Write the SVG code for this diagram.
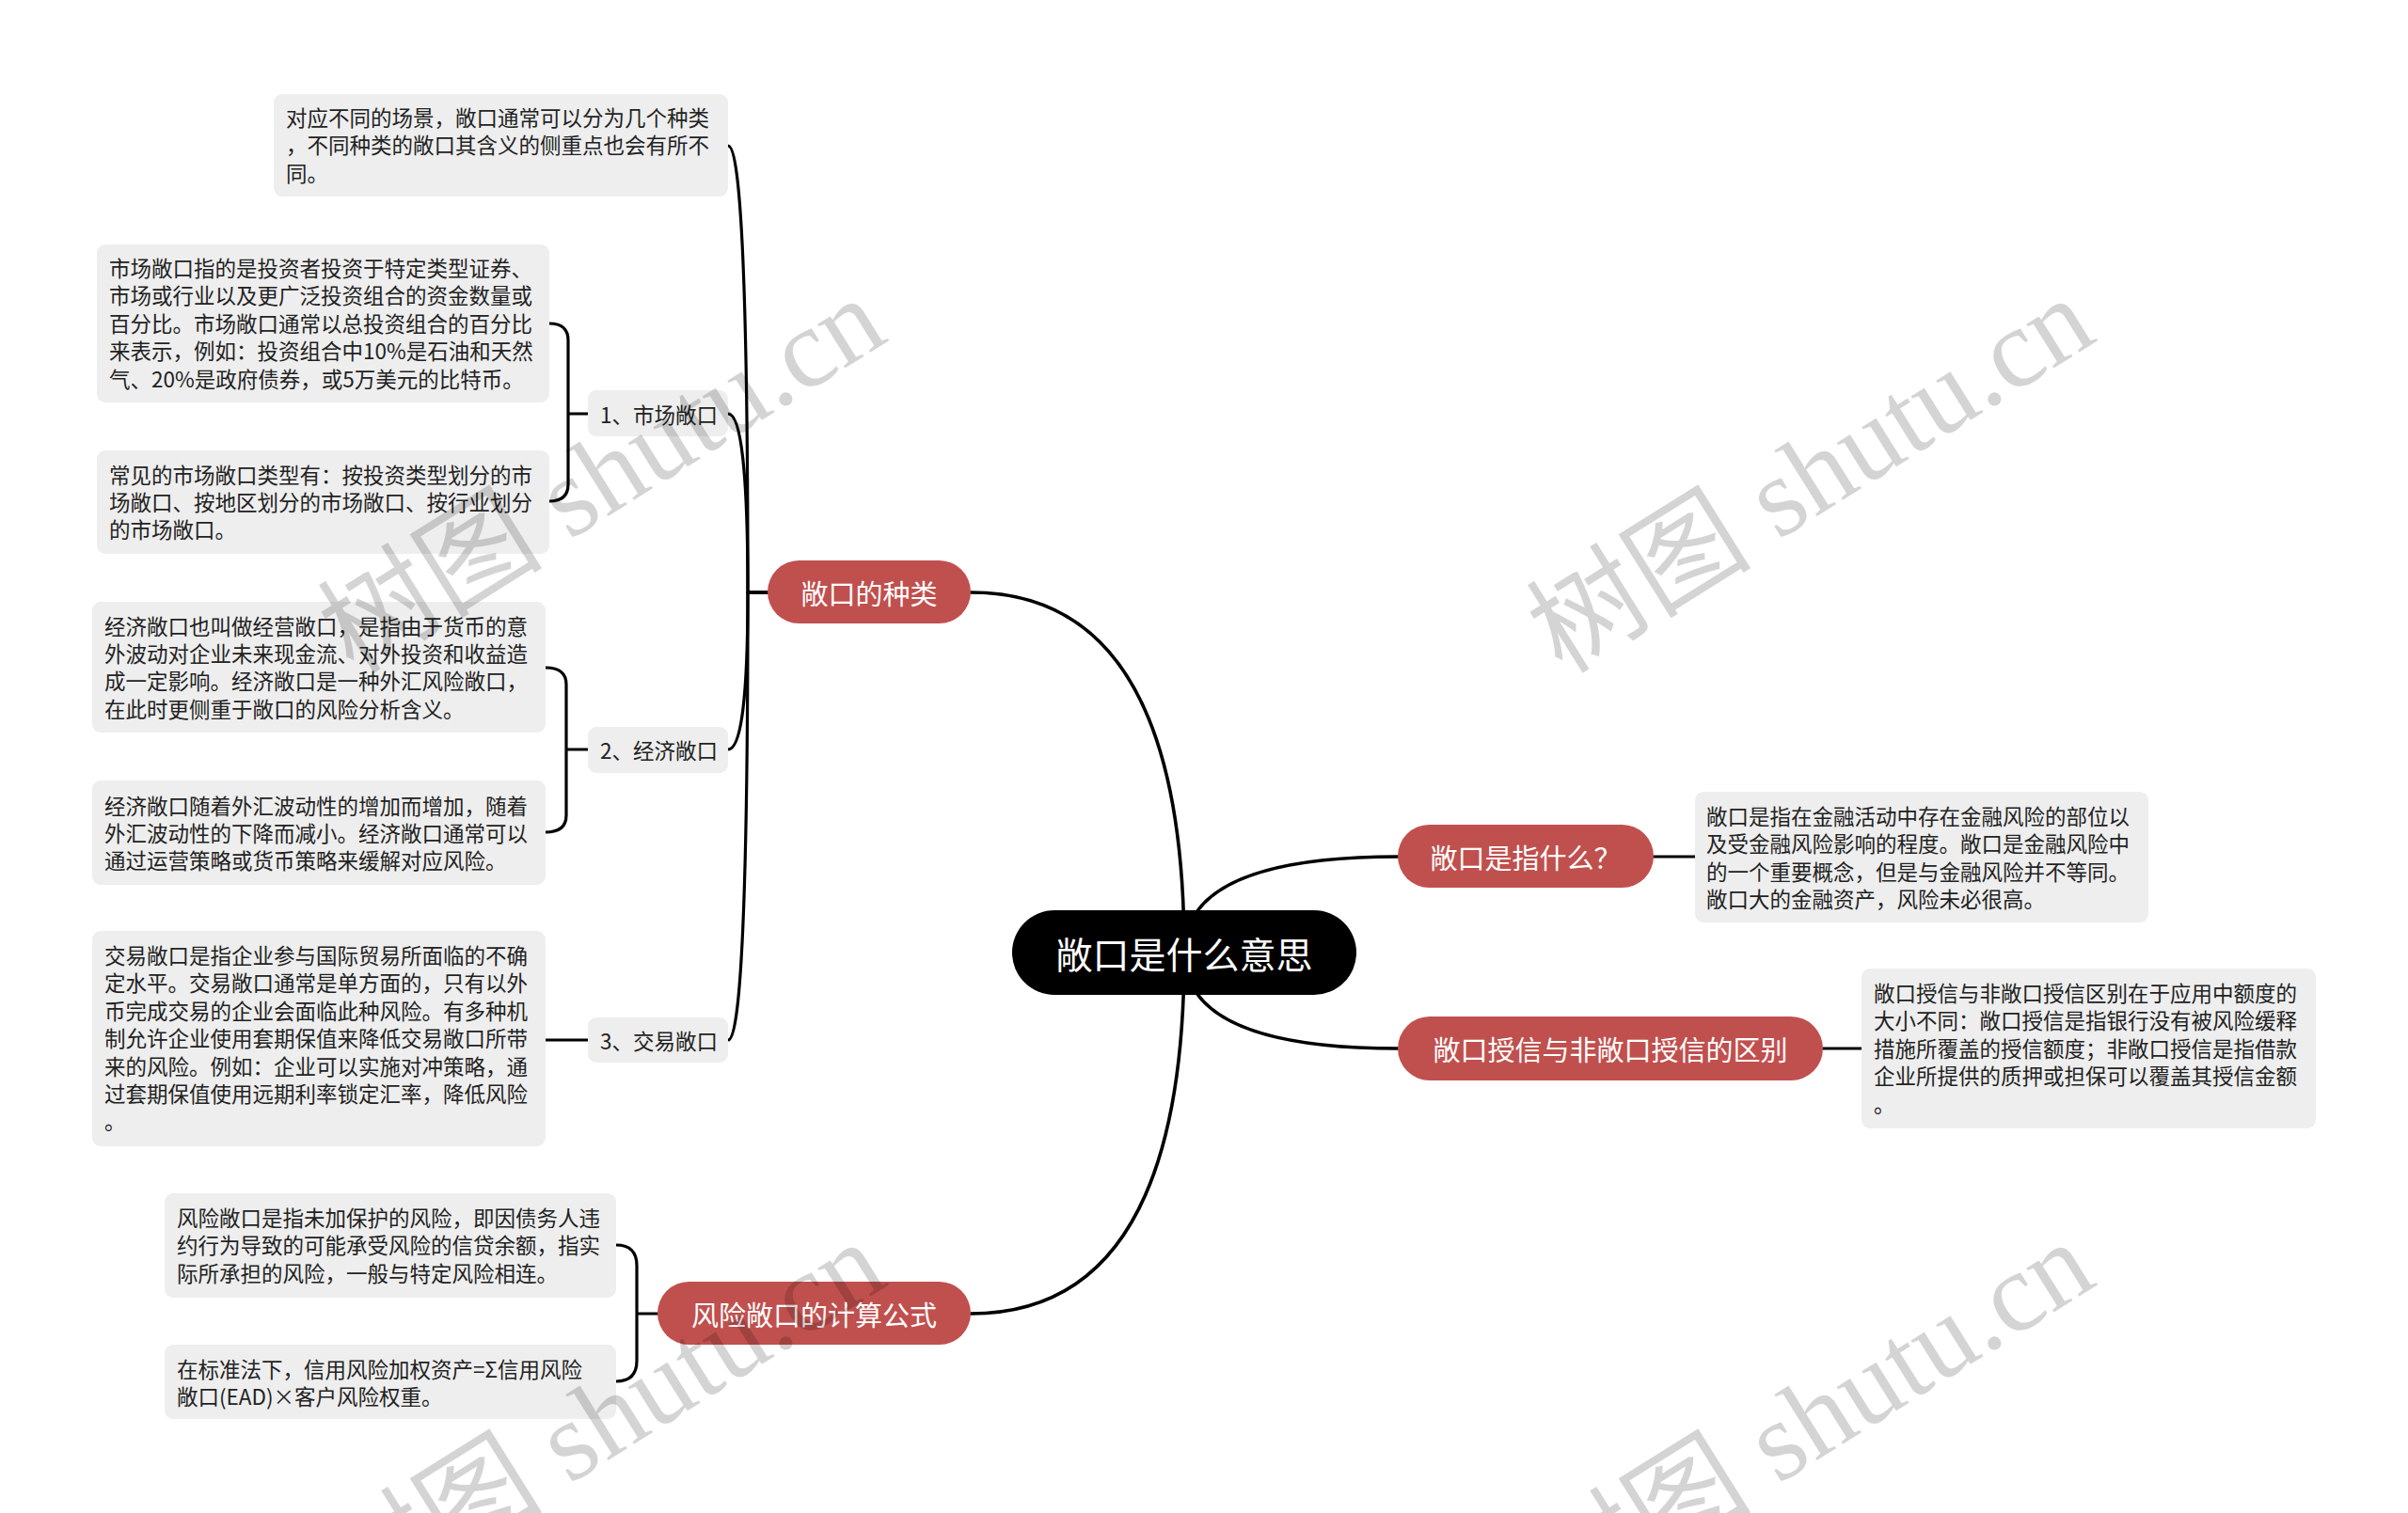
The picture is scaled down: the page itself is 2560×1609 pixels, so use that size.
<svg xmlns="http://www.w3.org/2000/svg" width="2560" height="1609" viewBox="0 0 2560 1609">
<style>
.bg{fill:#ffffff}
.line{fill:none;stroke:#000;stroke-width:3.2;stroke-linecap:round;stroke-linejoin:round}
.rootline{fill:none;stroke:#000;stroke-width:3.6;stroke-linecap:round}
.box{fill:#eeeeee}
.pill{fill:#c0504e}
.root{fill:#000}
.t{font-family:"Noto Sans CJK SC","Noto Sans",sans-serif;font-size:22.5px;fill:#222;dominant-baseline:central}
.pt{font-family:"Noto Sans CJK SC","Noto Sans",sans-serif;font-size:29px;fill:#fff;text-anchor:middle;dominant-baseline:central}
.rt{font-family:"Noto Sans CJK SC","Noto Sans",sans-serif;font-size:39px;fill:#fff;text-anchor:middle;dominant-baseline:central}
.wm{font-family:"Liberation Serif","Noto Sans CJK SC",serif;font-size:120px;fill:#000;fill-opacity:0.17}
</style>
<rect class="bg" x="0" y="0" width="2560" height="1609"/>
<g id="connectors">
<path class="rootline" d="M1259,1013 Q1259,630 1032,630"/>
<path class="rootline" d="M1259,1013 Q1259,1397 1032,1397"/>
<path class="rootline" d="M1259,1013 Q1259,911 1486,911"/>
<path class="rootline" d="M1259,1013 Q1259,1115 1486,1115"/>
<path class="line" d="M816,630 H795 Q795,155 774,155"/>
<path class="line" d="M816,630 H795 Q795,440 774,440"/>
<path class="line" d="M816,630 H795 Q795,797 774,797"/>
<path class="line" d="M816,630 H795 Q795,1106 774,1106"/>
<path class="line" d="M584,344 Q604,344 604,362 V515 Q604,533 584,533 M604,440 H625"/>
<path class="line" d="M580,710 Q602,710 602,728 V867 Q602,885 580,885 M602,797 H625"/>
<path class="line" d="M580,1106 H625"/>
<path class="line" d="M655,1324 Q677,1324 677,1346 V1447 Q677,1469 655,1469 M677,1397 H699"/>
<path class="line" d="M1758,911 H1802"/>
<path class="line" d="M1938,1115 H1979"/>
</g>
<g id="root">
<rect class="root" x="1076" y="968" width="366" height="90" rx="45"/>
<text class="rt" x="1259" y="1013">敞口是什么意思</text>
</g>
<g id="n-types">
<rect class="pill" x="816" y="596" width="216" height="67" rx="33.5"/>
<text class="pt" x="924" y="629.5">敞口的种类</text>
</g>
<g id="n-what">
<rect class="pill" x="1486" y="877" width="272" height="67" rx="33.5"/>
<text class="pt" x="1622" y="910.5">敞口是指什么？</text>
</g>
<g id="n-diff">
<rect class="pill" x="1486" y="1081" width="452" height="68" rx="34"/>
<text class="pt" x="1712" y="1115">敞口授信与非敞口授信的区别</text>
</g>
<g id="n-formula">
<rect class="pill" x="699" y="1363" width="333" height="67" rx="33.5"/>
<text class="pt" x="865.5" y="1396.5">风险敞口的计算公式</text>
</g>
<g id="n-types-intro">
<rect class="box" x="291" y="100" width="483" height="109" rx="9"/>
<text class="t" x="304" y="124">对应不同的场景，敞口通常可以分为几个种类</text>
<text class="t" x="304" y="153.4">，不同种类的敞口其含义的侧重点也会有所不</text>
<text class="t" x="304" y="182.8">同。</text>
</g>
<g id="n-market">
<rect class="box" x="625" y="415" width="149" height="49" rx="9"/>
<text class="t" x="638" y="439.5">1、市场敞口</text>
</g>
<g id="n-market-1">
<rect class="box" x="103" y="260" width="481" height="168" rx="9"/>
<text class="t" x="116" y="284">市场敞口指的是投资者投资于特定类型证券、</text>
<text class="t" x="116" y="313.4">市场或行业以及更广泛投资组合的资金数量或</text>
<text class="t" x="116" y="342.8">百分比。市场敞口通常以总投资组合的百分比</text>
<text class="t" x="116" y="372.2">来表示，例如：投资组合中10%是石油和天然</text>
<text class="t" x="116" y="401.6">气、20%是政府债券，或5万美元的比特币。</text>
</g>
<g id="n-market-2">
<rect class="box" x="103" y="479" width="481" height="110" rx="9"/>
<text class="t" x="116" y="503.5">常见的市场敞口类型有：按投资类型划分的市</text>
<text class="t" x="116" y="532.9">场敞口、按地区划分的市场敞口、按行业划分</text>
<text class="t" x="116" y="562.3">的市场敞口。</text>
</g>
<g id="n-economic">
<rect class="box" x="625" y="773" width="149" height="49" rx="9"/>
<text class="t" x="638" y="797">2、经济敞口</text>
</g>
<g id="n-economic-1">
<rect class="box" x="98" y="640" width="482" height="139" rx="9"/>
<text class="t" x="111" y="664.5">经济敞口也叫做经营敞口，是指由于货币的意</text>
<text class="t" x="111" y="693.9">外波动对企业未来现金流、对外投资和收益造</text>
<text class="t" x="111" y="723.3">成一定影响。经济敞口是一种外汇风险敞口，</text>
<text class="t" x="111" y="752.7">在此时更侧重于敞口的风险分析含义。</text>
</g>
<g id="n-economic-2">
<rect class="box" x="98" y="830" width="482" height="111" rx="9"/>
<text class="t" x="111" y="855.5">经济敞口随着外汇波动性的增加而增加，随着</text>
<text class="t" x="111" y="884.9">外汇波动性的下降而减小。经济敞口通常可以</text>
<text class="t" x="111" y="914.3">通过运营策略或货币策略来缓解对应风险。</text>
</g>
<g id="n-transaction">
<rect class="box" x="625" y="1082" width="149" height="48" rx="9"/>
<text class="t" x="638" y="1106">3、交易敞口</text>
</g>
<g id="n-transaction-1">
<rect class="box" x="98" y="990" width="482" height="229" rx="9"/>
<text class="t" x="111" y="1015">交易敞口是指企业参与国际贸易所面临的不确</text>
<text class="t" x="111" y="1044.4">定水平。交易敞口通常是单方面的，只有以外</text>
<text class="t" x="111" y="1073.8">币完成交易的企业会面临此种风险。有多种机</text>
<text class="t" x="111" y="1103.2">制允许企业使用套期保值来降低交易敞口所带</text>
<text class="t" x="111" y="1132.6">来的风险。例如：企业可以实施对冲策略，通</text>
<text class="t" x="111" y="1162">过套期保值使用远期利率锁定汇率，降低风险</text>
<text class="t" x="111" y="1191.4">。</text>
</g>
<g id="n-formula-1">
<rect class="box" x="175" y="1269" width="480" height="111" rx="9"/>
<text class="t" x="188" y="1294">风险敞口是指未加保护的风险，即因债务人违</text>
<text class="t" x="188" y="1323.4">约行为导致的可能承受风险的信贷余额，指实</text>
<text class="t" x="188" y="1352.8">际所承担的风险，一般与特定风险相连。</text>
</g>
<g id="n-formula-2">
<rect class="box" x="175" y="1430" width="480" height="79" rx="9"/>
<text class="t" x="188" y="1455">在标准法下，信用风险加权资产=Σ信用风险</text>
<text class="t" x="188" y="1484.4">敞口(EAD)×客户风险权重。</text>
</g>
<g id="n-what-1">
<rect class="box" x="1802" y="842" width="482" height="139" rx="9"/>
<text class="t" x="1814" y="867">敞口是指在金融活动中存在金融风险的部位以</text>
<text class="t" x="1814" y="896.4">及受金融风险影响的程度。敞口是金融风险中</text>
<text class="t" x="1814" y="925.8">的一个重要概念，但是与金融风险并不等同。</text>
<text class="t" x="1814" y="955.2">敞口大的金融资产，风险未必很高。</text>
</g>
<g id="n-diff-1">
<rect class="box" x="1979" y="1030" width="483" height="170" rx="9"/>
<text class="t" x="1992" y="1055">敞口授信与非敞口授信区别在于应用中额度的</text>
<text class="t" x="1992" y="1084.4">大小不同：敞口授信是指银行没有被风险缓释</text>
<text class="t" x="1992" y="1113.8">措施所覆盖的授信额度；非敞口授信是指借款</text>
<text class="t" x="1992" y="1143.2">企业所提供的质押或担保可以覆盖其授信金额</text>
<text class="t" x="1992" y="1172.6">。</text>
</g>
<g id="watermarks">
<text class="wm" transform="translate(376,718) rotate(-32)">树图 shutu.cn</text>
<text class="wm" transform="translate(1661,718) rotate(-32)">树图 shutu.cn</text>
<text class="wm" transform="translate(376,1722) rotate(-32)">树图 shutu.cn</text>
<text class="wm" transform="translate(1661,1722) rotate(-32)">树图 shutu.cn</text>
</g>
</svg>
